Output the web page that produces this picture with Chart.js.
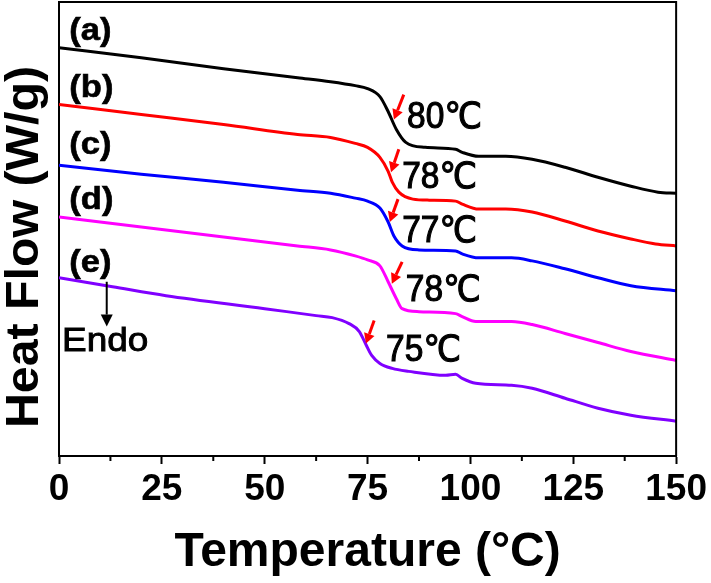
<!DOCTYPE html>
<html>
<head>
<meta charset="utf-8">
<script src="https://cdn.jsdelivr.net/npm/chart.js@4.4.1/dist/chart.umd.min.js"></script>
<style>
  html, body { margin: 0; padding: 0; background: #fff; }
  canvas { display: block; }
</style>
</head>
<body>
<canvas id="dscChart" width="711" height="583"></canvas>
<script>
// DSC heat flow curves (heat flow in stacked, arbitrary units)
const tempA = [0, 20, 40, 58, 66, 72, 75, 78, 80, 82, 84.3, 89, 96.4, 98, 102, 108.6, 115, 123, 131, 139, 145.6, 150];
const flowA = [4.11, 4.01, 3.90, 3.81, 3.77, 3.73, 3.70, 3.62, 3.47, 3.29, 3.16, 3.11, 3.09, 3.06, 3.02, 3.02, 2.99, 2.91, 2.81, 2.72, 2.66, 2.65];

const tempB = [0, 20, 40, 58, 66, 72, 75, 78, 80, 81, 82.6, 86, 90, 96.4, 98, 102, 108.6, 115, 123, 131, 139, 145, 150];
const flowB = [3.54, 3.44, 3.34, 3.24, 3.21, 3.15, 3.11, 3.01, 2.87, 2.76, 2.66, 2.59, 2.58, 2.57, 2.54, 2.49, 2.49, 2.46, 2.37, 2.27, 2.19, 2.14, 2.12];

const tempC = [0, 20, 40, 58, 66, 72, 75, 78, 80, 81.4, 83.4, 87.5, 96.4, 98, 102, 110, 115, 123, 131, 139, 150];
const flowC = [2.93, 2.84, 2.76, 2.68, 2.65, 2.60, 2.57, 2.50, 2.36, 2.22, 2.12, 2.08, 2.07, 2.04, 2.00, 2.00, 1.97, 1.89, 1.80, 1.72, 1.67];

const tempD = [0, 20, 40, 58, 66, 72, 75, 78, 80, 82, 83.4, 87.5, 96.4, 98, 101.3, 110, 115, 123, 131, 139, 150];
const flowD = [2.41, 2.31, 2.21, 2.12, 2.08, 2.02, 1.98, 1.92, 1.76, 1.59, 1.49, 1.46, 1.44, 1.41, 1.36, 1.36, 1.33, 1.24, 1.15, 1.06, 0.97];

const tempE = [0, 13, 26, 50, 62.5, 66.4, 70.5, 73, 74.6, 76, 78, 81, 85, 94, 96.4, 98, 101.3, 110, 115, 123, 131, 139, 150];
const flowE = [1.80, 1.71, 1.62, 1.49, 1.42, 1.40, 1.34, 1.26, 1.13, 1.02, 0.94, 0.89, 0.86, 0.82, 0.83, 0.79, 0.74, 0.72, 0.69, 0.59, 0.49, 0.42, 0.36];

const sampleLabels = ['(a)', '(b)', '(c)', '(d)', '(e)'];
const tgLabels = ['80\u2103', '78\u2103', '77\u2103', '78\u2103', '75\u2103'];
const xTicks = [0, 25, 50, 75, 100, 125, 150];

const colors = ['#000000', '#ff0000', '#0000ff', '#ff00ff', '#8000ff'];

function toPoints(ts, vs) {
    return ts.map((t, i) => ({ x: t, y: vs[i] }));
}

const series = [
    toPoints(tempA, flowA),
    toPoints(tempB, flowB),
    toPoints(tempC, flowC),
    toPoints(tempD, flowD),
    toPoints(tempE, flowE)
];

// where the texts and arrows sit, in data units
const sampleLabelPos = [[2.5, 4.19], [2.5, 3.62], [2.5, 3.04], [2.5, 2.49], [2.5, 1.86]];
const tgLabelPos = [[84.6, 3.30], [83.4, 2.70], [83.4, 2.16], [84.3, 1.57], [79.5, 0.96]];
const tgArrows = [
    [83.8, 3.64, 81.4, 3.39],
    [82.6, 3.09, 80.7, 2.86],
    [82.4, 2.59, 80.4, 2.36],
    [83.4, 1.96, 80.9, 1.74],
    [76.6, 1.37, 74.6, 1.14]
];
const endoArrow = [11.6, 1.76, 11.6, 1.31];
const endoPos = [0.75, 1.06];

const FONT = "'Liberation Sans', Arial, 'DejaVu Sans', sans-serif";

function drawText(ctx, txt, x, y, font, sx, heavy) {
    ctx.save();
    ctx.translate(x, y);
    ctx.scale(sx, 1);
    ctx.font = font;
    ctx.fillStyle = '#000';
    ctx.strokeStyle = '#000';
    ctx.textAlign = 'left';
    ctx.textBaseline = 'alphabetic';
    ctx.fillText(txt, 0, 0);
    if (heavy) {
        ctx.lineWidth = heavy;
        ctx.strokeText(txt, 0, 0);
    }
    ctx.restore();
}

function drawArrow(ctx, x1, y1, x2, y2, color, lw, headLen, headW) {
    const ang = Math.atan2(y2 - y1, x2 - x1);
    const bx = x2 - headLen * Math.cos(ang);
    const by = y2 - headLen * Math.sin(ang);
    ctx.save();
    ctx.strokeStyle = color;
    ctx.fillStyle = color;
    ctx.lineWidth = lw;
    ctx.beginPath();
    ctx.moveTo(x1, y1);
    ctx.lineTo(bx, by);
    ctx.stroke();
    ctx.beginPath();
    ctx.moveTo(x2, y2);
    ctx.lineTo(bx + headW / 2 * Math.sin(ang), by - headW / 2 * Math.cos(ang));
    ctx.lineTo(bx - headW / 2 * Math.sin(ang), by + headW / 2 * Math.cos(ang));
    ctx.closePath();
    ctx.fill();
    ctx.restore();
}

const annotate = {
    id: 'annotate',
    afterDraw(chart) {
        const { ctx, chartArea, scales: { x, y } } = chart;

        ctx.save();
        ctx.strokeStyle = '#000';
        ctx.lineWidth = 2;
        // top and right frame
        ctx.beginPath();
        ctx.moveTo(chartArea.left, chartArea.top);
        ctx.lineTo(chartArea.right, chartArea.top);
        ctx.lineTo(chartArea.right, chartArea.bottom);
        ctx.stroke();
        // minor ticks on the x axis
        for (let v = 12.5; v < 150; v += 25) {
            const px = x.getPixelForValue(v);
            ctx.beginPath();
            ctx.moveTo(px, chartArea.bottom);
            ctx.lineTo(px, chartArea.bottom + 5);
            ctx.stroke();
        }
        ctx.restore();

        sampleLabels.forEach((s, i) => {
            const [tx, ty] = sampleLabelPos[i];
            drawText(ctx, s, x.getPixelForValue(tx), y.getPixelForValue(ty), 'bold 32px ' + FONT, 1.08, 0.6);
        });

        tgLabels.forEach((s, i) => {
            const [tx, ty] = tgLabelPos[i];
            drawText(ctx, s, x.getPixelForValue(tx), y.getPixelForValue(ty), '36px ' + FONT, 0.93, 1.1);
            const a = tgArrows[i];
            drawArrow(ctx, x.getPixelForValue(a[0]), y.getPixelForValue(a[1]),
                x.getPixelForValue(a[2]), y.getPixelForValue(a[3]), '#ff0000', 3, 10, 11);
        });

        drawArrow(ctx, x.getPixelForValue(endoArrow[0]), y.getPixelForValue(endoArrow[1]),
            x.getPixelForValue(endoArrow[2]), y.getPixelForValue(endoArrow[3]), '#000', 2, 12, 12);
        drawText(ctx, 'Endo', x.getPixelForValue(endoPos[0]), y.getPixelForValue(endoPos[1]), '33px ' + FONT, 1.12, 0.9);

        // y axis title
        ctx.save();
        ctx.translate(38, 247);
        ctx.rotate(-Math.PI / 2);
        ctx.scale(1.05, 1);
        ctx.font = 'bold 46px ' + FONT;
        ctx.fillStyle = '#000';
        ctx.textAlign = 'center';
        ctx.textBaseline = 'alphabetic';
        ctx.fillText('Heat Flow (W/g)', 0, 0);
        ctx.restore();
    }
};

new Chart(document.getElementById('dscChart'), {
    type: 'line',
    data: {
        datasets: series.map((pts, i) => ({
            label: sampleLabels[i],
            data: pts,
            borderColor: colors[i],
            backgroundColor: colors[i],
            borderWidth: 3,
            pointRadius: 0,
            cubicInterpolationMode: 'monotone',
            fill: false
        }))
    },
    options: {
        responsive: false,
        animation: false,
        devicePixelRatio: 1,
        layout: { padding: { left: 59, right: 33, top: 2, bottom: 0 } },
        plugins: {
            legend: { display: false },
            tooltip: { enabled: false }
        },
        scales: {
            x: {
                type: 'linear',
                position: 'bottom',
                min: 0,
                max: 150,
                afterBuildTicks: (scale) => { scale.ticks = xTicks.map(v => ({ value: v })); },
                ticks: {
                    autoSkip: false,
                    maxRotation: 0,
                    padding: 4,
                    color: '#000',
                    font: { family: FONT, size: 37, weight: 'bold' }
                },
                grid: {
                    display: true,
                    drawOnChartArea: false,
                    drawTicks: true,
                    tickLength: 8,
                    tickWidth: 2,
                    tickColor: '#000'
                },
                border: { display: true, color: '#000', width: 2 },
                title: {
                    display: true,
                    text: 'Temperature (\u00B0C)',
                    color: '#000',
                    font: { family: FONT, size: 48, weight: 'bold' },
                    padding: { top: 8, bottom: 1 }
                }
            },
            y: {
                type: 'linear',
                min: 0.01,
                max: 4.57,
                ticks: { display: false },
                grid: { display: false, drawTicks: false },
                border: { display: true, color: '#000', width: 2 },
                title: { display: false }
            }
        }
    },
    plugins: [annotate]
});
</script>
</body>
</html>
